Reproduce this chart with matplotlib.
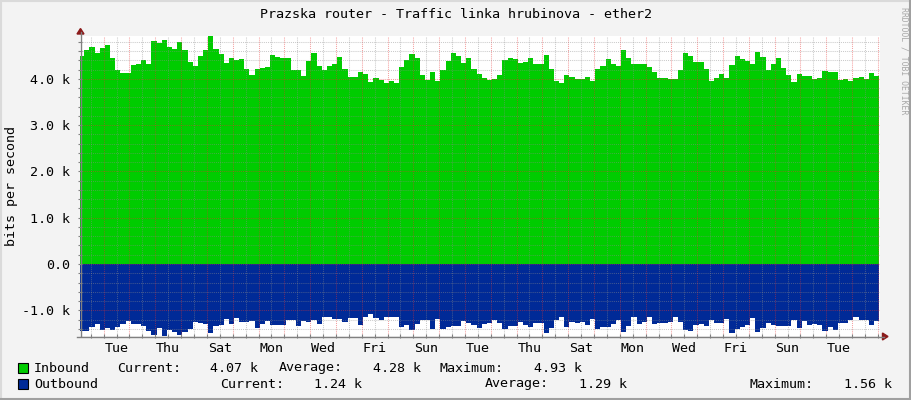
import numpy as np
import matplotlib
matplotlib.use('Agg')
import matplotlib.pyplot as plt
from matplotlib.lines import Line2D
from matplotlib.patches import Rectangle, Polygon
from matplotlib.ticker import FuncFormatter

W, H = 911, 400

# bits per second, one value per 0.2 day step
inbound = [
    4490, 4620, 4690, 4560, 4670, 4730, 4450, 4190, 4130, 4120,
    4300, 4310, 4410, 4310, 4820, 4780, 4830, 4690, 4650, 4800,
    4620, 4370, 4280, 4490, 4620, 4930, 4640, 4540, 4350, 4450,
    4410, 4430, 4220, 4090, 4210, 4230, 4260, 4510, 4470, 4450,
    4450, 4180, 4180, 4070, 4390, 4560, 4280, 4180, 4280, 4320,
    4470, 4220, 4040, 4040, 4150, 4100, 3940, 4020, 3970, 3920,
    3960, 3920, 4260, 4410, 4540, 4440, 4090, 3970, 4150, 3950,
    4180, 4390, 4560, 4500, 4350, 4450, 4220, 4110, 4020, 3980,
    4000, 4080, 4410, 4450, 4430, 4350, 4370, 4450, 4330, 4330,
    4510, 4220, 3960, 3900, 4080, 4040, 4000, 4000, 4040, 3950,
    4220, 4280, 4430, 4330, 4280, 4620, 4450, 4310, 4320, 4320,
    4260, 4150, 4020, 4020, 4000, 4000, 4190, 4560, 4490, 4370,
    4370, 4210, 3960, 4020, 4100, 4020, 4300, 4490, 4430, 4380,
    4310, 4580, 4470, 4190, 4320, 4450, 4230, 4080, 3930, 4100,
    4060, 4060, 4000, 4020, 4170, 4150, 4150, 3970, 4000, 3950,
    4020, 4040, 4000, 4120, 4070,
]
outbound = [
    1450, 1450, 1360, 1300, 1420, 1380, 1420, 1350, 1300, 1230,
    1300, 1300, 1330, 1450, 1530, 1380, 1560, 1430, 1470, 1530,
    1470, 1400, 1260, 1270, 1300, 1490, 1330, 1310, 1190, 1300,
    1170, 1250, 1250, 1230, 1380, 1300, 1230, 1310, 1320, 1320,
    1200, 1210, 1330, 1240, 1250, 1210, 1300, 1150, 1150, 1190,
    1190, 1250, 1170, 1170, 1320, 1140, 1080, 1170, 1200, 1140,
    1140, 1150, 1350, 1320, 1430, 1300, 1220, 1210, 1400, 1190,
    1400, 1370, 1340, 1330, 1230, 1270, 1320, 1390, 1300, 1280,
    1210, 1270, 1400, 1340, 1340, 1250, 1320, 1350, 1270, 1270,
    1480, 1390, 1220, 1150, 1350, 1260, 1270, 1260, 1320, 1190,
    1400, 1370, 1350, 1300, 1210, 1470, 1330, 1150, 1300, 1260,
    1150, 1300, 1270, 1270, 1260, 1150, 1250, 1430, 1450, 1320,
    1300, 1330, 1220, 1270, 1270, 1190, 1480, 1400, 1370, 1320,
    1170, 1460, 1380, 1270, 1320, 1340, 1340, 1340, 1210, 1380,
    1240, 1310, 1300, 1320, 1440, 1370, 1430, 1270, 1270, 1210,
    1150, 1210, 1210, 1320, 1240,
]

day_labels = ['Tue', 'Thu', 'Sat', 'Mon', 'Wed', 'Fri', 'Sun',
              'Tue', 'Thu', 'Sat', 'Mon', 'Wed', 'Fri', 'Sun', 'Tue']

title = 'Prazska router - Traffic linka hrubinova - ether2'
in_stats = ['4.07 k', '4.28 k', '4.93 k']
out_stats = ['1.24 k', '1.29 k', '1.56 k']

SPAN_DAYS = 31
FIRST_MIDNIGHT = 0.918
STEP = 0.2
FIRST_EDGE = 0.167 - STEP

GREEN = '#00CC00'
BLUE = '#002A97'
AXIS = '#808080'
ARROW = '#8B1A1A'

plt.rcParams['font.family'] = ['DejaVu Sans Mono']
plt.rcParams['font.size'] = 9.6


def fx(px):
    return px / W


def fy(py):
    return 1 - py / H


fig = plt.figure(figsize=(W / 100, H / 100), dpi=100, facecolor='#F3F3F3')
ax = fig.add_axes([fx(80), fy(336), 800 / W, 300 / H])
ax.set_facecolor('white')

# step areas (repeat the last value so the final step gets its width)
edges = FIRST_EDGE + STEP * np.arange(len(inbound) + 1)
in_y = np.r_[inbound, inbound[-1]]
out_y = -np.r_[outbound, outbound[-1]]
ax.fill_between(edges, 0, in_y, step='post', color=GREEN, lw=0)
ax.fill_between(edges, 0, out_y, step='post', color=BLUE, lw=0)

ax.set_xlim(0, SPAN_DAYS)
ax.set_ylim(-1555, 4925)

# x grid: red at midnight, grey at noon, labels every other noon
midnights = FIRST_MIDNIGHT + np.arange(0, SPAN_DAYS)
midnights = midnights[midnights < SPAN_DAYS]
noons = FIRST_MIDNIGHT - 0.5 + np.arange(0, SPAN_DAYS + 1)
noons = noons[noons < SPAN_DAYS]
noon_labels = [day_labels[(k - 1) // 2] if k % 2 == 1 and (k - 1) // 2 < len(day_labels) else ''
               for k in range(len(noons))]
ax.set_xticks(midnights)
ax.set_xticklabels([])
ax.set_xticks(noons, minor=True)
ax.set_xticklabels(noon_labels, minor=True)

ax.set_yticks(np.arange(-1000, 4001, 1000))
ax.set_yticks(np.arange(-1400, 4901, 200), minor=True)
ax.yaxis.set_major_formatter(FuncFormatter(lambda v, p: '0.0' if v == 0 else '%.1f k' % (v / 1000)))

ax.tick_params(which='both', direction='inout', length=3, width=0.8, color=AXIS)
ax.tick_params(axis='x', which='both', pad=3)
ax.tick_params(axis='y', which='both', pad=5.5)

ax.set_axisbelow(False)
ax.grid(which='major', color='#E83030', alpha=0.45, linestyle=(0, (1, 1)), lw=0.75)
ax.grid(which='minor', color='#8C8C8C', alpha=0.45, linestyle=(0, (1, 1)), lw=0.75)

for s in ax.spines.values():
    s.set_visible(False)

# axes with arrows
fig.add_artist(Line2D([fx(80.5), fx(80.5)], [fy(336), fy(32)], color=AXIS, lw=1))
fig.add_artist(Line2D([fx(77), fx(884)], [fy(336.5), fy(336.5)], color=AXIS, lw=1))
fig.add_artist(Polygon([[fx(80.5), fy(28.5)], [fx(77), fy(34)], [fx(84), fy(34)]],
                       closed=True, color=ARROW, transform=fig.transFigure))
fig.add_artist(Polygon([[fx(888), fy(336.5)], [fx(882.5), fy(333)], [fx(882.5), fy(340)]],
                       closed=True, color=ARROW, transform=fig.transFigure))

# frame shading
fig.add_artist(Line2D([0, 1], [fy(0.5), fy(0.5)], color='#DADADA', lw=1.5))
fig.add_artist(Line2D([fx(0.5), fx(0.5)], [0, 1], color='#DADADA', lw=1.5))
fig.add_artist(Line2D([0, 1], [fy(399), fy(399)], color='#A0A0A0', lw=1.5))
fig.add_artist(Line2D([fx(910), fx(910)], [0, 1], color='#A0A0A0', lw=1.5))

fig.text(fx(455.5), fy(14), title, ha='center', va='center')
fig.text(fx(12), fy(186), 'bits per second', rotation=90, ha='center', va='center')
fig.text(fx(904), fy(61), 'RRDTOOL / TOBI OETIKER', rotation=270, ha='center', va='center',
         fontsize=5.9, color='#A8A8A8')

# legend
rows = [
    (368, GREEN, 'Inbound', in_stats, [117, 258, 279, 421, 440, 582]),
    (384, BLUE, 'Outbound', out_stats, [220, 362, 485, 627, 750, 892]),
]
for y, col, name, stats, xs in rows:
    fig.add_artist(Rectangle((fx(18), fy(y + 5)), 10 / W, 10 / H, facecolor=col,
                             edgecolor='black', lw=0.8, transform=fig.transFigure))
    fig.text(fx(34), fy(y), name, va='center')
    for i, lab in enumerate(['Current:', 'Average:', 'Maximum:']):
        fig.text(fx(xs[2 * i]), fy(y), lab, va='center', ha='left')
        fig.text(fx(xs[2 * i + 1]), fy(y), stats[i], va='center', ha='right')

fig.savefig('out.png', dpi=100, facecolor=fig.get_facecolor())
